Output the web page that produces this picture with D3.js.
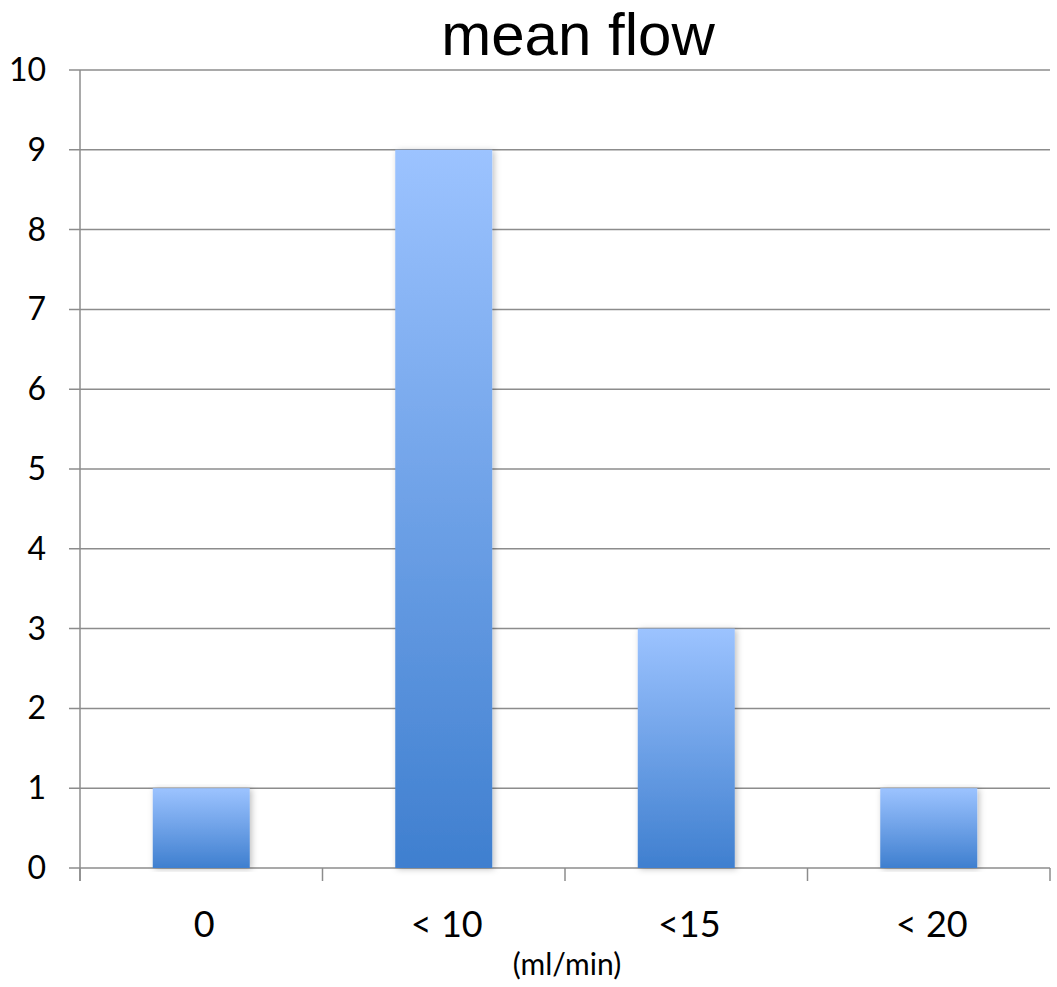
<!DOCTYPE html>
<html><head><meta charset="utf-8">
<script src="https://cdn.jsdelivr.net/npm/d3@7"></script>
<style>body{margin:0;background:#fff}svg{display:block}</style>
</head><body>
<script>
const categories = ["0", "< 10", "<15", "< 20"];
const values = [1, 9, 3, 1];
const yTicks = [0,1,2,3,4,5,6,7,8,9,10];
const title = "mean flow";
const xAxisTitle = "(ml/min)";

const W = 1057, H = 987;
const m = {left: 80, right: 7, top: 70, bottom: 119};
const svg = d3.select("body").append("svg").attr("width", W).attr("height", H);

const x = d3.scaleBand().domain(categories).range([m.left, W - m.right]).paddingInner(0.6).paddingOuter(0.3);
const y = d3.scaleLinear().domain([0, 10]).range([H - m.bottom, m.top]);

const defs = svg.append("defs");
const g = defs.append("linearGradient").attr("id","barGrad").attr("x1",0).attr("y1",0).attr("x2",0).attr("y2",1);
g.append("stop").attr("offset","0%").attr("stop-color","#9cc3ff");
g.append("stop").attr("offset","100%").attr("stop-color","#3f7fcf");
const f = defs.append("filter").attr("id","shadow").attr("x","-20%").attr("y","-5%").attr("width","140%").attr("height","110%");
f.append("feDropShadow").attr("dx",2).attr("dy",1).attr("stdDeviation",3).attr("flood-color","#000").attr("flood-opacity",0.25);

// gridlines
svg.append("g").selectAll("line").data(yTicks).join("line")
  .attr("x1", m.left - 11).attr("x2", W - m.right)
  .attr("y1", d => y(d)).attr("y2", d => y(d))
  .attr("stroke", "#8c8c8c").attr("stroke-width", 1.5);

// y axis line
svg.append("line").attr("x1", m.left).attr("x2", m.left)
  .attr("y1", y(10)).attr("y2", y(0) + 13)
  .attr("stroke", "#8c8c8c").attr("stroke-width", 1.5);

// x ticks at category boundaries
const bounds = d3.range(categories.length + 1).map(i => m.left + i * (W - m.right - m.left) / categories.length);
svg.append("g").selectAll("line").data(bounds).join("line")
  .attr("x1", d => d).attr("x2", d => d)
  .attr("y1", y(0)).attr("y2", y(0) + 13)
  .attr("stroke", "#8c8c8c").attr("stroke-width", 1.5);

// bars
svg.append("g").selectAll("rect").data(values).join("rect")
  .attr("x", (d,i) => x(categories[i]))
  .attr("width", x.bandwidth())
  .attr("y", d => y(d))
  .attr("height", d => y(0) - y(d))
  .attr("fill", "url(#barGrad)")
  .attr("filter", "url(#shadow)");

// y labels
svg.append("g").selectAll("text").data(yTicks).join("text")
  .attr("x", 46).attr("y", d => y(d) + 11)
  .attr("text-anchor", "end")
  .attr("font-family", "Lato, 'Open Sans', sans-serif").attr("font-size", 32)
  .attr("fill", "#000").text(d => d);

// x labels
svg.append("g").selectAll("text").data(categories).join("text")
  .attr("x", d => x(d) + x.bandwidth()/2 + 3).attr("y", 937)
  .attr("text-anchor", "middle")
  .attr("font-family", "Lato, 'Open Sans', sans-serif").attr("font-size", 36)
  .attr("fill", "#000").text(d => d);

svg.append("text").attr("x", 567).attr("y", 975).attr("text-anchor","middle")
  .attr("font-family", "Lato, 'Open Sans', sans-serif").attr("font-size", 30)
  .attr("fill","#000").text(xAxisTitle);

svg.append("text").attr("x", 578).attr("y", 55).attr("text-anchor","middle")
  .attr("font-family", "'Liberation Sans', Arial, sans-serif").attr("font-size", 60)
  .attr("fill","#000").text(title);
</script>
</body></html>
